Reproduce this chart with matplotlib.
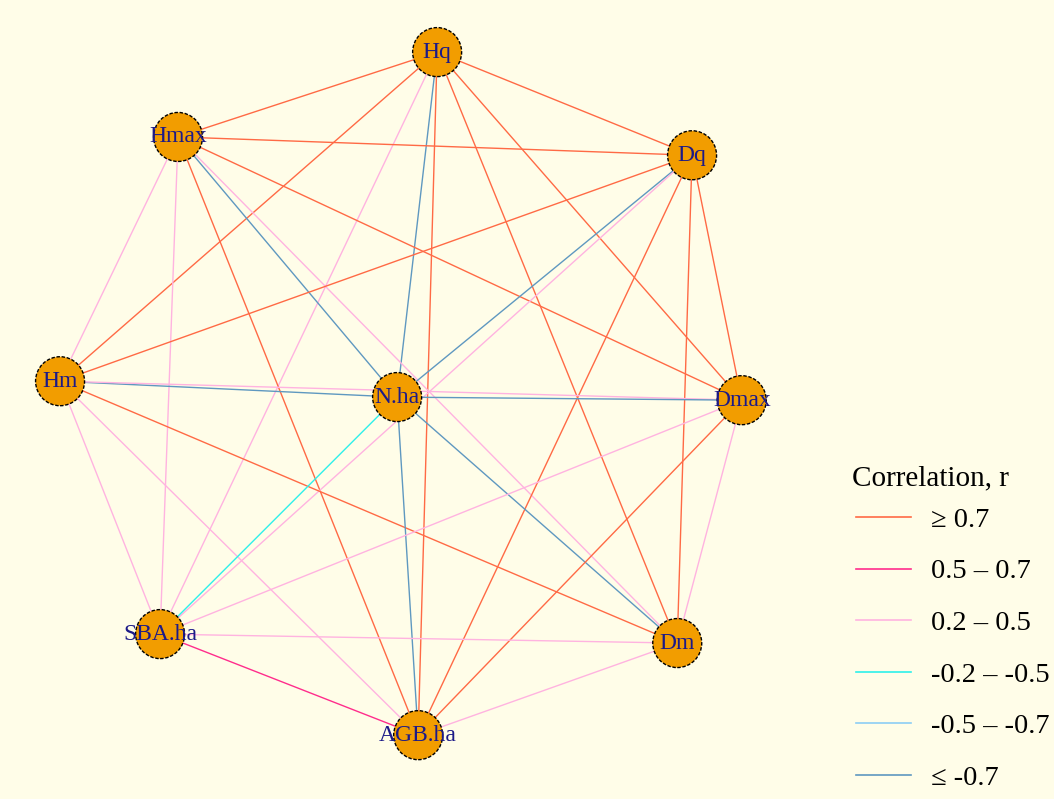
import matplotlib
matplotlib.use("Agg")
import matplotlib.pyplot as plt
from matplotlib.patches import Circle
from matplotlib.lines import Line2D


""" Data """

# Variables in the correlation network
nodes = ["Hq", "Hmax", "Dq", "Hm", "N.ha", "Dmax", "SBA.ha", "Dm", "AGB.ha"]

# Pairwise correlations (only the class can be read off the figure,
# so a representative r is kept for each edge)
edge_from = ["Hq", "Hq", "Hq", "Hq", "Hq", "Hq", "Hq", "Hq",
             "Hmax", "Hmax", "Hmax", "Hmax", "Hmax", "Hmax", "Hmax",
             "Dq", "Dq", "Dq", "Dq", "Dq", "Dq",
             "Hm", "Hm", "Hm", "Hm", "Hm",
             "N.ha", "N.ha", "N.ha", "N.ha",
             "Dmax", "Dmax", "Dmax",
             "SBA.ha", "SBA.ha",
             "Dm"]
edge_to = ["Hmax", "Dq", "Hm", "N.ha", "Dmax", "SBA.ha", "Dm", "AGB.ha",
           "Dq", "Hm", "N.ha", "Dmax", "SBA.ha", "Dm", "AGB.ha",
           "Hm", "N.ha", "Dmax", "SBA.ha", "Dm", "AGB.ha",
           "N.ha", "Dmax", "SBA.ha", "Dm", "AGB.ha",
           "Dmax", "SBA.ha", "Dm", "AGB.ha",
           "SBA.ha", "Dm", "AGB.ha",
           "Dm", "AGB.ha",
           "AGB.ha"]
edge_r = [0.8, 0.8, 0.8, -0.8, 0.8, 0.4, 0.8, 0.8,
          0.8, 0.4, -0.8, 0.8, 0.4, 0.4, 0.8,
          0.8, -0.8, 0.8, 0.4, 0.8, 0.8,
          -0.8, 0.4, 0.4, 0.8, 0.4,
          -0.8, -0.3, -0.8, -0.8,
          0.4, 0.4, 0.8,
          0.4, 0.6,
          0.4]

# Legend classes
legend_title = "Correlation, r"
class_labels = ["\u2265 0.7", "0.5 \u2013 0.7", "0.2 \u2013 0.5",
                "-0.2 \u2013 -0.5", "-0.5 \u2013 -0.7", "\u2264 -0.7"]


""" Layout and style """

# Spring-type layout, centred on N.ha
layout = {
    "Hq": (0.116, 1.000),
    "Hmax": (-0.635, 0.754),
    "Dq": (0.855, 0.701),
    "Hm": (-0.977, 0.046),
    "N.ha": (0.0, 0.0),
    "Dmax": (0.999, -0.009),
    "SBA.ha": (-0.687, -0.687),
    "Dm": (0.812, -0.713),
    "AGB.ha": (0.061, -0.980),
}

class_colors = ["#ff6a45", "#ff2d8c", "#ffb3e0", "#2ef0ea", "#8ccdf5", "#5f98c0"]
bg = "#fffde8"
node_fill = "#f29d00"
label_color = "#1c1a88"
serif = "Liberation Serif"


def classify(r):
    # Map a correlation to one of the legend classes
    if r >= 0.7:
        return 0
    if r >= 0.5:
        return 1
    if r >= 0.2:
        return 2
    if r > -0.5:
        return 3
    if r > -0.7:
        return 4
    return 5


""" Drawing """

fig = plt.figure(figsize=(10.54, 7.99), dpi=100)
fig.patch.set_facecolor(bg)
ax = fig.add_axes([0, 0, 1, 1])
ax.set_facecolor(bg)
ax.set_xlim(-1.151, 1.904)
ax.set_ylim(-1.165, 1.151)
ax.set_aspect("equal")
ax.axis("off")

# Edges
for a, b, r in zip(edge_from, edge_to, edge_r):
    x0, y0 = layout[a]
    x1, y1 = layout[b]
    ax.plot([x0, x1], [y0, y1], color=class_colors[classify(r)],
            lw=1.0, zorder=1, solid_capstyle="butt")

# Nodes
for name in nodes:
    x, y = layout[name]
    ax.add_patch(Circle((x, y), 0.071, facecolor=node_fill, edgecolor="black",
                        lw=1.0, linestyle=(0, (2.5, 1.2)), zorder=3))
    ax.text(x, y, name, ha="center", va="center", color=label_color,
            fontsize=17, family=serif, zorder=4)

# Legend (title drawn separately so the gap to the first entry can be set)
fig.text(852 / 1054, 1 - 478 / 799, legend_title, ha="left", va="center",
         family=serif, fontsize=21)
handles = [Line2D([], [], color=c, lw=1.2) for c in class_colors]
leg = ax.legend(handles, class_labels,
                loc="upper left", bbox_to_anchor=(856 / 1054, 1 - 507 / 799),
                bbox_transform=fig.transFigure, frameon=False,
                prop={"family": serif, "size": 20.5},
                borderpad=0, borderaxespad=0,
                handlelength=1.93, handletextpad=0.72, labelspacing=0.9)

fig.savefig("out.png", dpi=100, facecolor=bg)
